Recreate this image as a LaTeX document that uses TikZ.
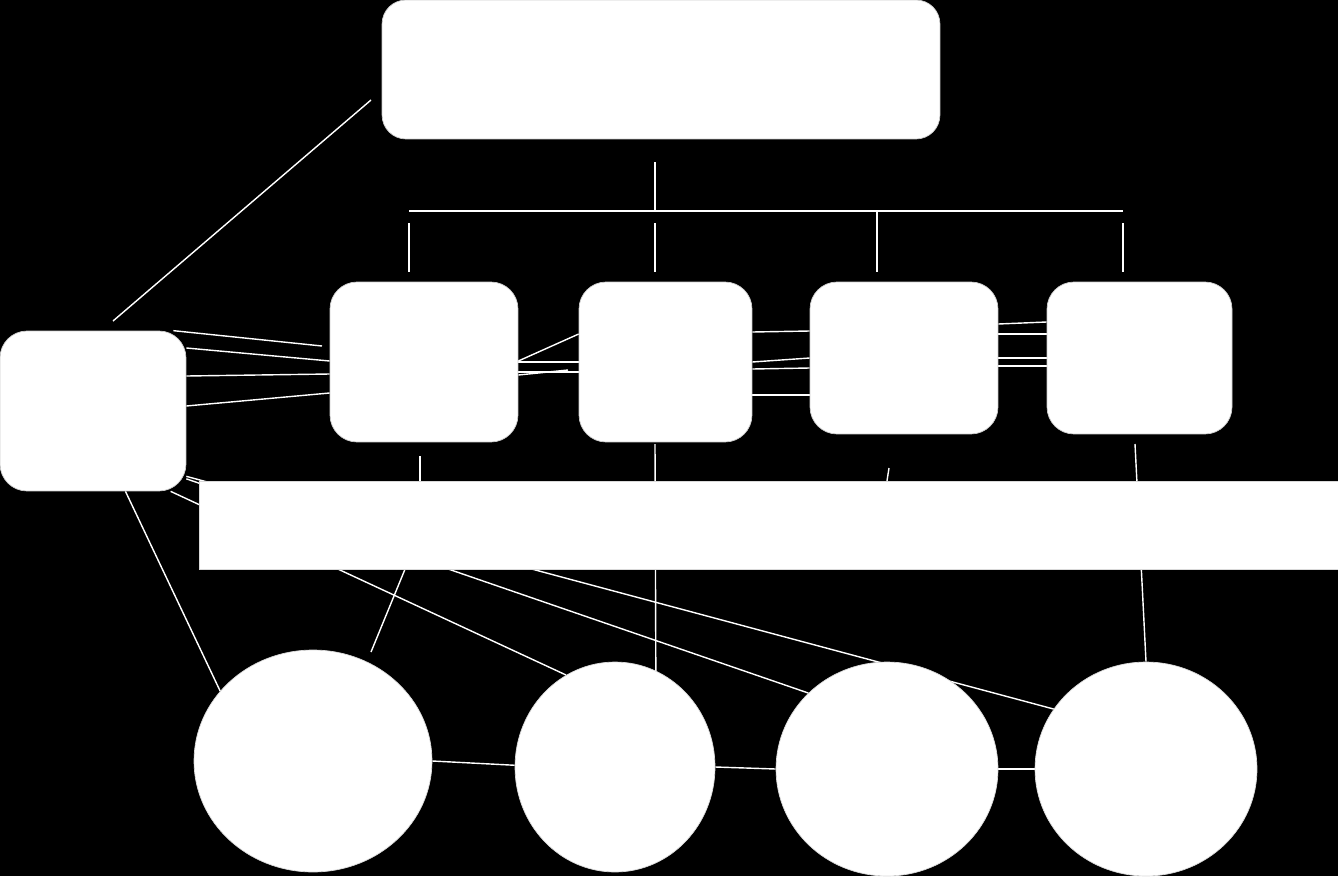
\documentclass[tikz,border=0pt]{standalone}
\usetikzlibrary{shapes.geometric,calc}
\pgfdeclarelayer{back}
\pgfdeclarelayer{wires}
\pgfsetlayers{back,wires,main}
\tikzstyle{block}=[draw=white!80!black,fill=white,line width=0.4pt,inner sep=0pt,rounded corners=0.54cm,minimum height=3.2cm]
\tikzstyle{band}=[draw=white!85!black,fill=white,line width=0.4pt,inner sep=0pt]
\tikzstyle{blob}=[ellipse,draw=white!85!black,fill=white,line width=0.4pt,inner sep=0pt]
\tikzstyle{wire}=[draw=white,line width=0.8pt]

\begin{document}
\begin{tikzpicture}[x=0.02cm,y=-0.02cm]
	\useasboundingbox (0,0) rectangle (1338,876);
	\begin{pgfonlayer}{back}
	\fill[black] (0,0) rectangle (1338,876);
	\end{pgfonlayer}
	% boxes
	\node[block,rounded corners=0.48cm,minimum width=11.16cm,minimum height=2.78cm] (top) at (661,69.5) {};
	\node[block,minimum width=3.72cm] (left) at (93,411) {};
	\node[block,minimum width=3.76cm] (b1) at (424,362) {};
	\node[block,minimum width=3.46cm] (b2) at (665.5,362) {};
	\node[block,minimum width=3.76cm,minimum height=3.04cm] (b3) at (904,358) {};
	\node[block,minimum width=3.7cm,minimum height=3.04cm] (b4) at (1139.5,358) {};
	\node[band,minimum width=22.78cm,minimum height=1.76cm] (bar) at (768.5,525) {};
	% ellipses
	\node[blob,minimum width=4.76cm,minimum height=4.44cm] (e1) at (313,761) {};
	\node[blob,minimum width=4cm,minimum height=4.2cm] (e2) at (615,767) {};
	\node[blob,minimum width=4.44cm,minimum height=4.28cm] (e3) at (887,769) {};
	\node[blob,minimum width=4.44cm,minimum height=4.28cm] (e4) at (1146,769) {};
	% free ends
	\coordinate (root) at (655,162);
	\coordinate (hub) at (655,211);
	\coordinate (busW) at (409,211);
	\coordinate (busE) at (1123,211);
	\coordinate (diagA) at (371,100);
	\coordinate (diagB) at (113,321);
	\coordinate (stubA) at (322,346);
	\coordinate (stubB) at (568,370);
	\coordinate (dropA) at (420,456);
	\coordinate (dropB) at (371,652);
	\coordinate (dropC) at (655,444);
	\coordinate (dropD) at (889,468);
	\coordinate (dropE) at (1135,444);
	\begin{pgfonlayer}{wires}
	\draw[wire] (root) -- (hub);
	\draw[wire] (busW) -- (busE);
	\foreach \x/\y in {409/223,655/223,877/211,1123/223}
		\draw[wire] (\x,\y) -- (\x,272);
	\draw[wire] (diagA) -- (diagB);
	% left box to first box
	\draw[wire] (left.45) -- (stubA);
	\foreach \u/\v in {348/361,376/374,406/393}
		\draw[wire] (left.east |- 0,\u) -- (b1.west |- 0,\v);
	% along the row
	\draw[wire] (b1.east |- 0,361) -- (b2.west |- 0,334);
	\draw[wire] (b1.east |- 0,362) -- (b2.west |- 0,362);
	\draw[wire] (b1.east |- 0,372) -- (b2.west |- 0,372);
	\draw[wire] (b1.east |- 0,375) -- (stubB);
	\foreach \u/\v in {332/331,362/358,369/368,395/395}
		\draw[wire] (b2.east |- 0,\u) -- (b3.west |- 0,\v);
	\foreach \u/\v in {324/322,334/334,358/358,366/366}
		\draw[wire] (b3.east |- 0,\u) -- (b4.west |- 0,\v);
	% downwards
	\draw[wire] (dropA) -- (dropA |- bar.center);
	\draw[wire] (dropB) -- ($(dropB)!0.8!(417,540)$);
	\draw[wire] (dropC) -- (e2.67);
	\draw[wire] (dropD) -- (884,500);
	\draw[wire] (dropE) -- (e4.north);
	\draw[wire] (left.-68) -- (e1.143);
	\draw[wire] (left.-46) -- (e2.118);
	\draw[wire] (left.-36) -- (e3.136);
	\draw[wire] (left.-35) -- (e4.147);
	% between ellipses
	\draw[wire] (e1.east) -- (e2.179);
	\draw[wire] (e2.east) -- (e3.west);
	\draw[wire] (e3.east) -- (e4.west);
	\end{pgfonlayer}
\end{tikzpicture}
\end{document}
